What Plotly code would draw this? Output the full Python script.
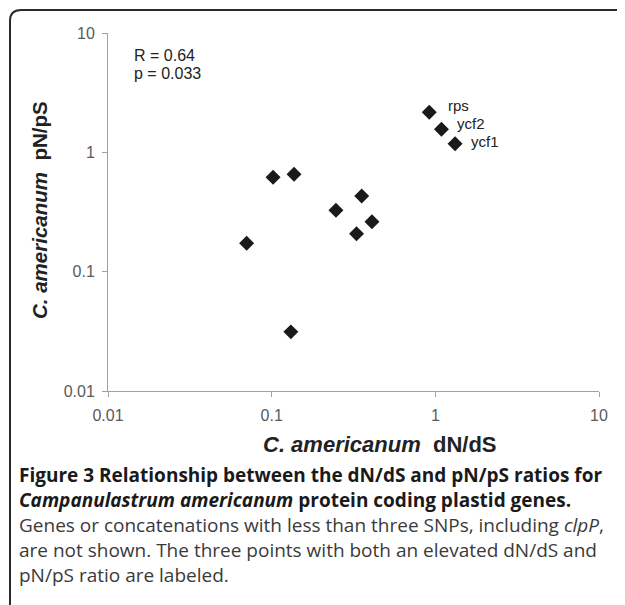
import plotly.graph_objects as go
import math

# ---- data ----
dnds = [0.918, 1.09, 1.32, 0.102, 0.137, 0.355, 0.247, 0.410, 0.330, 0.0703, 0.131]
pnps = [2.17, 1.56, 1.18, 0.618, 0.655, 0.430, 0.327, 0.262, 0.208, 0.173, 0.0313]
point_labels = ["rps", "ycf2", "ycf1", "", "", "", "", "", "", "", ""]
tick_vals = [0.01, 0.1, 1, 10]
tick_text = ["0.01", "0.1", "1", "10"]
stats_lines = ["R = 0.64", "p = 0.033"]
x_title = "<b><i>C. americanum</i>  dN/dS</b>"
y_title = "<b><i>C. americanum</i>  pN/pS</b>"
caption_lines = [
    "<b>Figure 3 Relationship between the dN/dS and pN/pS ratios for</b>",
    "<b><i>Campanulastrum americanum</i> protein coding plastid genes.</b>",
    "Genes or concatenations with less than three SNPs, including <i>clpP</i>,",
    "are not shown. The three points with both an elevated dN/dS and",
    "pN/pS ratio are labeled.",
]

OFF = 8  # page body margin
W, H = 625 - OFF, 605 - OFF
L, R, T, B = 100, 26, 25, 214
PW, PH = W - L - R, H - T - B

def px(x):  # screen x -> paper
    return (x - OFF - L) / PW

def py(y):  # screen y -> paper
    return (H - B - (y - OFF)) / PH

fig = go.Figure()
fig.add_trace(go.Scatter(
    x=dnds, y=pnps, mode="markers",
    marker=dict(symbol="diamond", size=11.5, color="#1a1a1a"),
    hoverinfo="skip", showlegend=False,
))

axis_common = dict(
    type="log", range=[-2, 1], tickvals=tick_vals, ticktext=tick_text,
    showline=True, linecolor="#a0a0a0", linewidth=1,
    ticks="outside", ticklen=5, tickcolor="#a0a0a0", tickwidth=1,
    showgrid=False, zeroline=False,
    tickfont=dict(family="Liberation Sans, Arial", size=16, color="#5a5a5a"),
)

fig.update_layout(
    width=W, height=H,
    margin=dict(l=L, r=R, t=T, b=B),
    paper_bgcolor="white", plot_bgcolor="white",
    xaxis=dict(**axis_common, ticklabelstandoff=5),
    yaxis=dict(**axis_common, ticklabelstandoff=4),
)

annotations = []
# point labels
shifts = {"rps": (17, 7), "ycf2": (14, 6), "ycf1": (14, 2)}
for xv, yv, lab in zip(dnds, pnps, point_labels):
    if lab:
        sx, sy = shifts[lab]
        annotations.append(dict(
            x=math.log10(xv), y=math.log10(yv), xref="x", yref="y",
            text=lab, showarrow=False, xanchor="left", yanchor="middle",
            xshift=sx, yshift=sy,
            font=dict(family="Liberation Sans, Arial", size=15, color="#222222"),
        ))
# stats
for line, yy in zip(stats_lines, [55, 73]):
    annotations.append(dict(
        x=px(132), y=py(yy), xref="paper", yref="paper", text=line,
        showarrow=False, xanchor="left", yanchor="middle", align="left",
        font=dict(family="Liberation Sans, Arial", size=16, color="#222222"),
    ))
# axis titles
annotations.append(dict(
    x=px(380), y=py(444), xref="paper", yref="paper", text=x_title,
    showarrow=False, xanchor="center", yanchor="middle",
    font=dict(family="Liberation Sans, Arial", size=22, color="#222222"),
))
annotations.append(dict(
    x=px(40), y=py(210), xref="paper", yref="paper", text=y_title,
    showarrow=False, xanchor="center", yanchor="middle", textangle=-90,
    font=dict(family="Liberation Sans, Arial", size=20.5, color="#222222"),
))
# caption
cap_y = [475, 500, 525, 550, 575]
for i, (line, yy) in enumerate(zip(caption_lines, cap_y)):
    annotations.append(dict(
        x=px(17), y=py(yy), xref="paper", yref="paper", text=line,
        showarrow=False, xanchor="left", yanchor="middle", align="left",
        font=dict(family="Open Sans", size=19,
                  color="#1a1a1a" if i < 2 else "#3a3a3a"),
    ))
fig.update_layout(annotations=annotations)

# rounded frame (top-left corner only visible)
r = 11
x0, y0 = 10, 10
path = (f"M {px(x0)} {py(605 + 20)} L {px(x0)} {py(y0 + r)} "
        f"Q {px(x0)} {py(y0)} {px(x0 + r)} {py(y0)} L {px(625 + 20)} {py(y0)}")
fig.add_shape(type="path", xref="paper", yref="paper", path=path,
              line=dict(color="#2a2a2a", width=2))

fig.write_html("out.html")
